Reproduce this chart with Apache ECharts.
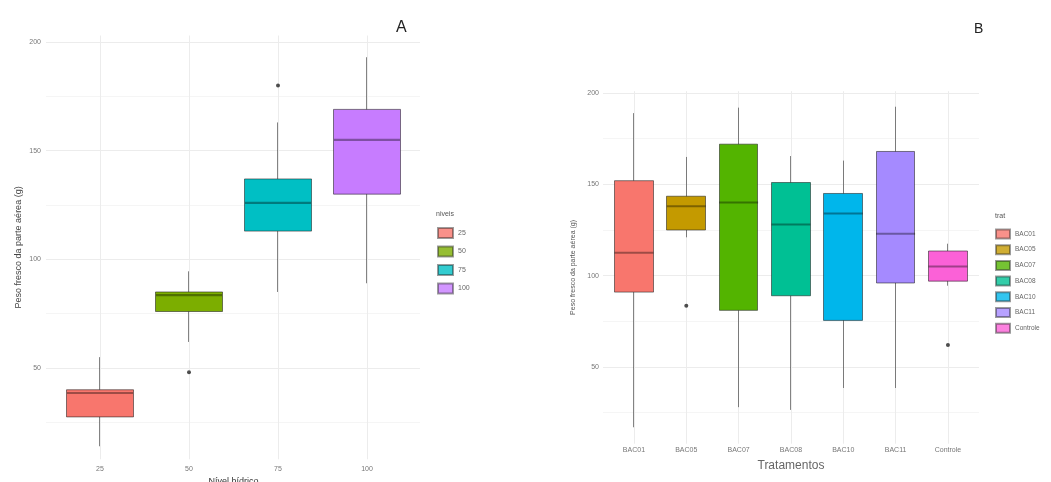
<!DOCTYPE html>
<html>
<head>
<meta charset="utf-8">
<script src="https://cdn.jsdelivr.net/npm/echarts@6/dist/echarts.min.js"></script>
<style>html,body{margin:0;padding:0;background:#fff;}#c{width:1051px;height:482px;}</style>
</head>
<body>
<div id="c"></div>
<script>
// ---- Panel A data ----
const catsA = ['25', '50', '75', '100'];
const colorsA = ['#F8766D', '#7CAE00', '#00BFC4', '#C77CFF'];
// [lower whisker, Q1, median, Q3, upper whisker]
const boxA = [
  [14, 27.5, 38.5, 40, 55],
  [62, 76, 83.5, 85, 94.5],
  [85, 113, 126, 137, 163],
  [89, 130, 155, 169, 193]
];
const outA = [['50', 48], ['75', 180]];
const yTicksA = [50, 100, 150, 200];

// ---- Panel B data ----
const catsB = ['BAC01', 'BAC05', 'BAC07', 'BAC08', 'BAC10', 'BAC11', 'Controle'];
const colorsB = ['#F8766D', '#C49A00', '#53B400', '#00C094', '#00B6EB', '#A58AFF', '#FB61D7'];
const boxB = [
  [17, 91, 112.5, 152, 189],
  [121, 125, 138, 143.5, 165],
  [28, 81, 140, 172, 192],
  [26.5, 89, 128, 151, 165.5],
  [38.5, 75.5, 134, 145, 163],
  [38.5, 96, 123, 168, 192.5],
  [94.5, 97, 105, 113.5, 117.5]
];
const outB = [['BAC05', 83.5], ['Controle', 62]];
const yTicksB = [50, 100, 150, 200];

const FONT = '"Liberation Sans", Arial, sans-serif';
const GRIDC = '#ececec';
const BORDER = 'rgba(30,30,30,0.55)';

const chart = echarts.init(document.getElementById('c'), null, {renderer: 'canvas'});

function bgY(gridIndex, min, max, nameGap, ticks) {
  return {
    gridIndex, type: 'value', min, max, splitNumber: 4,
    axisLine: {show: false}, axisTick: {show: false},
    axisLabel: {show: true, color: '#777', fontSize: 7, fontFamily: FONT, margin: 5,
      showMinLabel: false, showMaxLabel: false,
      formatter: v => (ticks.indexOf(v) >= 0 ? String(v) : '')},
    splitLine: {show: true, showMinLine: false, showMaxLine: false, lineStyle: {color: GRIDC, width: 1}},
    minorTick: {show: false, splitNumber: 2},
    minorSplitLine: {show: true, lineStyle: {color: '#f5f5f5', width: 1}},
    name: 'Peso fresco da parte aérea (g)', nameLocation: 'middle', nameRotate: 90,
    nameGap: nameGap,
    nameTextStyle: {fontFamily: FONT}
  };
}

const yA0 = bgY(0, 8, 203, 23, yTicksA);
yA0.nameTextStyle.fontSize = 9; yA0.nameTextStyle.color = '#444';
const yB0 = bgY(2, 8, 201, 26, yTicksB);
yB0.nameTextStyle.fontSize = 7; yB0.nameTextStyle.color = '#555';
yB0.axisLabel.margin = 4;

function dataY(gridIndex, min, max) {
  return {gridIndex, type: 'value', min, max, splitNumber: 4,
    axisLine: {show: false}, axisTick: {show: false}, axisLabel: {show: false},
    splitLine: {show: false}};
}

function catX(gridIndex, cats, name, nameSize, nameColor, nameGap, labelMargin) {
  return {
    gridIndex, type: 'category', data: cats, boundaryGap: true,
    axisLine: {show: false}, axisTick: {show: false, alignWithLabel: true},
    axisLabel: {color: '#777', fontSize: 7, fontFamily: FONT, margin: labelMargin, interval: 0},
    splitLine: {show: true, alignWithLabel: true, lineStyle: {color: GRIDC, width: 1}},
    name, nameLocation: 'middle', nameGap,
    nameTextStyle: {fontSize: nameSize, color: nameColor, fontFamily: FONT}
  };
}

// candlestick value: [open(Q1), close(Q3), lowest, highest]
function candleData(box, colors) {
  return box.map((b, i) => ({
    value: [b[1], b[3], b[0], b[4]],
    itemStyle: {color: colors[i], color0: colors[i], borderColor: BORDER, borderColor0: BORDER}
  }));
}
function medData(cats, box) {
  return cats.map((c, i) => ({value: [i, box[i][2]]}));
}
function outData(cats, outs) {
  return outs.map(o => [cats.indexOf(o[0]), o[1]]);
}
function dummy(names, colors, xi, yi) {
  return names.map((n, i) => ({
    name: n, type: 'scatter', xAxisIndex: xi, yAxisIndex: yi, data: [],
    itemStyle: {color: colors[i], borderColor: BORDER, borderWidth: 1}
  }));
}

const option = {
  backgroundColor: '#fff',
  animation: false,
  textStyle: {fontFamily: FONT},
  title: [
    {text: 'A', left: 396, top: 20, padding: 0, textStyle: {fontSize: 16, fontWeight: 'normal', color: '#222', fontFamily: FONT}},
    {text: 'B', left: 974, top: 22, padding: 0, textStyle: {fontSize: 14, fontWeight: 'normal', color: '#222', fontFamily: FONT}},
    {text: 'niveis', left: 436, top: 211, padding: 0, textStyle: {fontSize: 7, fontWeight: 'normal', color: '#555', fontFamily: FONT}},
    {text: 'trat', left: 995, top: 213, padding: 0, textStyle: {fontSize: 7, fontWeight: 'normal', color: '#555', fontFamily: FONT}}
  ],
  legend: [
    {data: catsA, orient: 'vertical', left: 437, top: 227, padding: 0, itemWidth: 15, itemHeight: 10, itemGap: 6.5,
      icon: 'rect', selectedMode: false,
      textStyle: {fontSize: 7, color: '#666', fontFamily: FONT}},
    {data: catsB, orient: 'vertical', left: 995, top: 228.5, padding: 0, itemWidth: 14, itemHeight: 9, itemGap: 4.7,
      icon: 'rect', selectedMode: false,
      textStyle: {fontSize: 6.5, color: '#666', fontFamily: FONT}}
  ],
  grid: [
    {left: 46, width: 374, top: 35.5, height: 423.8, outerBoundsMode: 'none', containLabel: false},
    {left: 55.5, width: 356, top: 35.5, height: 423.8, outerBoundsMode: 'none', containLabel: false},
    {left: 603, width: 376, top: 91.2, height: 352.5, outerBoundsMode: 'none', containLabel: false},
    {left: 607.8, width: 366.3, top: 91.2, height: 352.5, outerBoundsMode: 'none', containLabel: false}
  ],
  xAxis: [
    {gridIndex: 0, type: 'value', min: 0, max: 1, show: false},
    catX(1, catsA, 'Nível hídrico', 9, '#333', 15, 6),
    {gridIndex: 2, type: 'value', min: 0, max: 1, show: false},
    catX(3, catsB, 'Tratamentos', 12, '#666', 16, 3)
  ],
  yAxis: [
    yA0,
    dataY(1, 8, 203),
    yB0,
    dataY(3, 8, 201)
  ],
  series: [
    {type: 'candlestick', xAxisIndex: 1, yAxisIndex: 1, barWidth: '75%',
      itemStyle: {borderWidth: 1}, data: candleData(boxA, colorsA)},
    {type: 'scatter', xAxisIndex: 1, yAxisIndex: 1, symbol: 'rect', symbolSize: [66, 2.2],
      itemStyle: {color: 'rgba(0,0,0,0.45)'}, data: medData(catsA, boxA), z: 5},
    {type: 'scatter', xAxisIndex: 1, yAxisIndex: 1, symbolSize: 4,
      itemStyle: {color: '#222'}, data: outData(catsA, outA)},
    {type: 'candlestick', xAxisIndex: 3, yAxisIndex: 3, barWidth: '75%',
      itemStyle: {borderWidth: 1}, data: candleData(boxB, colorsB)},
    {type: 'scatter', xAxisIndex: 3, yAxisIndex: 3, symbol: 'rect', symbolSize: [39, 2],
      itemStyle: {color: 'rgba(0,0,0,0.45)'}, data: medData(catsB, boxB), z: 5},
    {type: 'scatter', xAxisIndex: 3, yAxisIndex: 3, symbolSize: 4,
      itemStyle: {color: '#222'}, data: outData(catsB, outB)}
  ].concat(dummy(catsA, colorsA, 0, 0)).concat(dummy(catsB, colorsB, 2, 2))
};
chart.setOption(option);
</script>
</body>
</html>
